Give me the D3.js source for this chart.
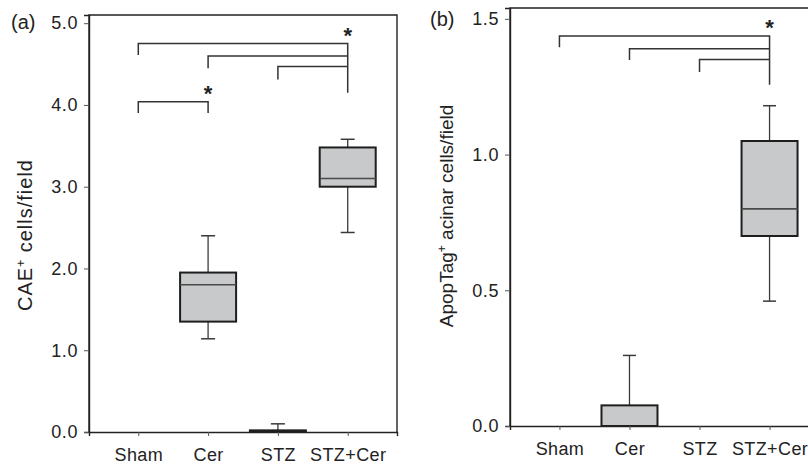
<!DOCTYPE html>
<html>
<head>
<meta charset="utf-8">
<script src="https://cdn.jsdelivr.net/npm/d3@7"></script>
<style>
  body { margin: 0; background: #fff; }
  svg { font-family: "Liberation Sans", Arial, sans-serif; }
</style>
</head>
<body>
<svg width="808" height="465"></svg>
<script>
// groups on the x axis
const groups = ["Sham", "Cer", "STZ", "STZ+Cer"];

// panel (a) CAE+ cells/field : box stats per group
const aLow    = [0, 1.14, 0,    2.44];
const aQ1     = [0, 1.35, 0,    3.00];
const aMedian = [0, 1.80, 0,    3.10];
const aQ3     = [0, 1.95, 0.02, 3.48];
const aHigh   = [0, 2.40, 0.10, 3.58];
const aTicks  = [0, 1, 2, 3, 4, 5];

// panel (b) ApopTag+ acinar cells/field
const bLow    = [0, 0,     0, 0.46];
const bQ1     = [0, 0,     0, 0.70];
const bMedian = [0, 0,     0, 0.80];
const bQ3     = [0, 0.076, 0, 1.05];
const bHigh   = [0, 0.26,  0, 1.18];
const bTicks  = [0, 0.5, 1, 1.5];

// significance brackets: [left group, right group, bar level, left end, right end, star]
const aBrackets = [
  ["Sham", "STZ+Cer", 4.75, 4.61, 4.15, true],
  ["Cer",  "STZ+Cer", 4.60, 4.45, 4.60, false],
  ["STZ",  "STZ+Cer", 4.47, 4.31, 4.47, false],
  ["Sham", "Cer",     4.04, 3.90, 3.90, true]
];
const bBrackets = [
  ["Sham", "STZ+Cer", 1.437, 1.395, 1.257, true],
  ["Cer",  "STZ+Cer", 1.39,  1.348, 1.39,  false],
  ["STZ",  "STZ+Cer", 1.35,  1.304, 1.35,  false]
];

const svg = d3.select("svg");

function drawPanel(p) {
  const x = d3.scalePoint().domain(groups).range([p.left, p.right]).padding(0.706);
  const y = d3.scaleLinear().domain([0, p.ymax]).range([p.bottom, p.top]);
  const g = svg.append("g");

  // boxes
  const boxes = groups.map((k, i) => ({
    key: k, lo: p.low[i], q1: p.q1[i], med: p.median[i], q3: p.q3[i], hi: p.high[i]
  })).filter(d => d.hi > 0);

  const bw = 56, cap = p.cap;
  const b = g.selectAll("g.box").data(boxes).enter().append("g");

  // whiskers
  b.append("line")
    .attr("x1", d => x(d.key)).attr("x2", d => x(d.key))
    .attr("y1", d => y(d.q3)).attr("y2", d => y(d.hi))
    .attr("stroke", "#3a3a3a").attr("stroke-width", 1.3);
  b.append("line")
    .attr("x1", d => x(d.key) - cap / 2).attr("x2", d => x(d.key) + cap / 2)
    .attr("y1", d => y(d.hi)).attr("y2", d => y(d.hi))
    .attr("stroke", "#3a3a3a").attr("stroke-width", 1.5);
  b.filter(d => d.lo < d.q1).append("line")
    .attr("x1", d => x(d.key)).attr("x2", d => x(d.key))
    .attr("y1", d => y(d.q1)).attr("y2", d => y(d.lo))
    .attr("stroke", "#3a3a3a").attr("stroke-width", 1.3);
  b.filter(d => d.lo < d.q1).append("line")
    .attr("x1", d => x(d.key) - cap / 2).attr("x2", d => x(d.key) + cap / 2)
    .attr("y1", d => y(d.lo)).attr("y2", d => y(d.lo))
    .attr("stroke", "#3a3a3a").attr("stroke-width", 1.5);

  b.append("rect")
    .attr("x", d => x(d.key) - bw / 2)
    .attr("width", bw)
    .attr("y", d => y(d.q3))
    .attr("height", d => y(d.q1) - y(d.q3))
    .attr("fill", "#c8c9cb")
    .attr("stroke", "#1e1e1e").attr("stroke-width", 2);

  b.filter(d => d.med > d.q1).append("line")
    .attr("x1", d => x(d.key) - bw / 2).attr("x2", d => x(d.key) + bw / 2)
    .attr("y1", d => y(d.med)).attr("y2", d => y(d.med))
    .attr("stroke", "#4a4a4a").attr("stroke-width", 1.6);

  // frame
  const x0 = p.left, x1 = p.right;
  g.append("path")
    .attr("d", `M${x0},${p.bottom}V${p.top}H${x1}V${p.bottom}`)
    .attr("fill", "none").attr("stroke", "#222").attr("stroke-width", 1.4);

  // axes
  const yAxis = g.append("g").attr("transform", `translate(${x0},0)`)
    .call(d3.axisLeft(y).tickValues(p.ticks).tickFormat(d3.format(".1f")).tickSize(5).tickPadding(6));
  const xAxis = g.append("g").attr("transform", `translate(0,${p.bottom})`)
    .call(d3.axisBottom(x).tickSize(4).tickPadding(12));
  [yAxis, xAxis].forEach(a => {
    a.select(".domain").attr("stroke", "#222").attr("stroke-width", 1.4);
    a.selectAll(".tick line").attr("stroke", "#555");
    a.selectAll("text").attr("fill", "#222").style("font-size", "18px").style("letter-spacing", "0.6px")
      .attr("font-family", null);
  });
  xAxis.selectAll("text").style("font-size", "18px").style("letter-spacing", "0.4px");

  // brackets
  p.brackets.forEach(br => {
    const [ga, gb, lev, endA, endB, star] = br;
    g.append("path")
      .attr("d", `M${x(ga)},${y(endA)}V${y(lev)}H${x(gb)}V${y(endB)}`)
      .attr("fill", "none").attr("stroke", "#333").attr("stroke-width", 1.5);
    if (star) {
      g.append("text")
        .attr("x", x(gb)).attr("y", y(lev) - 1)
        .attr("text-anchor", "middle")
        .style("font-size", "22px").style("font-weight", "bold")
        .attr("fill", "#222")
        .text("*");
    }
  });

  // y label
  const lab = g.append("text")
    .attr("transform", `translate(${p.labelX},${p.labelY}) rotate(-90)`)
    .attr("text-anchor", "middle")
    .style("font-size", p.labelSize + "px")
    .style("letter-spacing", p.labelSpacing + "px")
    .attr("fill", "#222");
  lab.append("tspan").text(p.label[0]);
  lab.append("tspan").attr("baseline-shift", "super").style("font-size", "12px").text("+");
  lab.append("tspan").text(" " + p.label[1]);

  // panel tag
  g.append("text").attr("x", p.tagX).attr("y", p.tagY)
    .style("font-size", "20px").attr("fill", "#222").text(p.tag);
}

drawPanel({
  left: 89, right: 397, top: 15, bottom: 432, ymax: 5.1,
  low: aLow, q1: aQ1, median: aMedian, q3: aQ3, high: aHigh, ticks: aTicks,
  brackets: aBrackets, cap: 14,
  label: ["CAE", "cells/field"], labelX: 32, labelY: 235, labelSize: 20, labelSpacing: 1,
  tag: "(a)", tagX: 11, tagY: 29
});

drawPanel({
  left: 510, right: 819, top: 8, bottom: 426, ymax: 1.54,
  low: bLow, q1: bQ1, median: bMedian, q3: bQ3, high: bHigh, ticks: bTicks,
  brackets: bBrackets, cap: 13,
  label: ["ApopTag", "acinar cells/field"], labelX: 453, labelY: 216, labelSize: 19, labelSpacing: 0,
  tag: "(b)", tagX: 430, tagY: 26
});
</script>
</body>
</html>
